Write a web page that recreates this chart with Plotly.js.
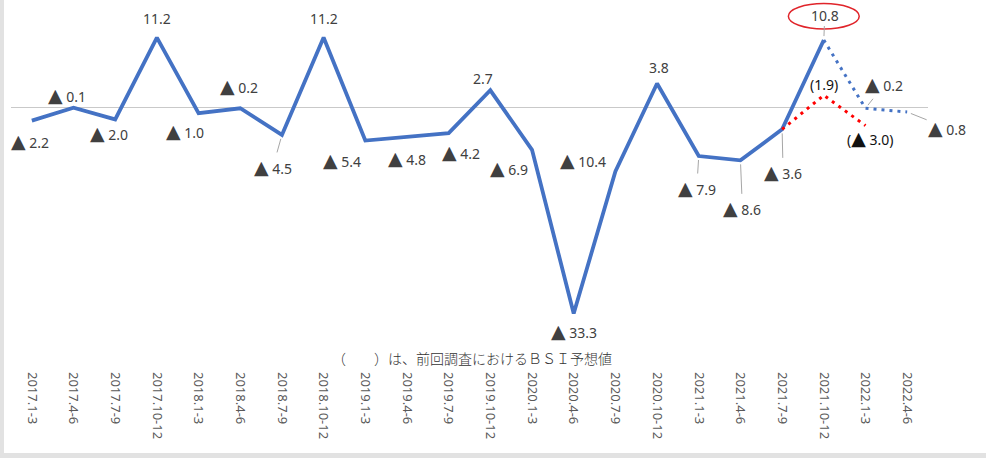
<!DOCTYPE html>
<html>
<head>
<meta charset="utf-8">
<script src="https://cdn.plot.ly/plotly-3.0.1.min.js"></script>
<style>
html,body{margin:0;padding:0;background:#fff;}
#wrap{width:986px;height:458px;box-sizing:border-box;border-left:4px solid #e2e2e2;border-bottom:5px solid #e2e2e2;background:#fff;}
#chart{width:982px;height:453px;}
</style>
</head>
<body>
<div id="wrap"><div id="chart"></div></div>
<script>
// ---- data ----
const categories = ["2017.1-3","2017.4-6","2017.7-9","2017.10-12","2018.1-3","2018.4-6","2018.7-9","2018.10-12",
  "2019.1-3","2019.4-6","2019.7-9","2019.10-12","2020.1-3","2020.4-6","2020.7-9","2020.10-12",
  "2021.1-3","2021.4-6","2021.7-9","2021.10-12","2022.1-3","2022.4-6"];
const actual = [-2.2, -0.1, -2.0, 11.2, -1.0, -0.2, -4.5, 11.2, -5.4, -4.8, -4.2, 2.7, -6.9, -33.3, -10.4, 3.8, -7.9, -8.6, -3.6, 10.8];
const forecastCats = ["2021.10-12","2022.1-3","2022.4-6"];
const forecast = [10.8, -0.2, -0.8];
const prevForecastCats = ["2021.7-9","2021.10-12","2022.1-3"];
const prevForecast = [-3.6, 1.9, -3.0];
const note = "（　　）は、前回調査におけるＢＳＩ予想値";

// label offsets (pixels) and leader flags — styling only
const actualOffsets = [[-2,20,0],[-7,-13,0],[-6,14,0],[0,-19,0],[-14,18,0],[-1,-22,0],[-9,32,1],[0,-19,0],
  [-23,19,0],[0,21,0],[12,19,0],[-7,-12,0],[-23,18,0],[0,17,0],[-32,-12,0],[2,-16,0],
  [-2,32,1],[2,48,1],[1,43,1],[1,-25,1]];
const forecastOffsets = [null,[19,-24,1],[40,16,1]];
const prevOffsets = [null,[0,-11,0],[5,12,0]];

const BLUE = "#4472C4";
const TRI = '<span style="font-size:19px">▲</span> ';
function fmt(v){ return v < 0 ? TRI + Math.abs(v).toFixed(1) : v.toFixed(1); }

const annotations = [];
const labelFont = {family:"Noto Sans, DejaVu Sans, sans-serif", size:14, color:"#404040"};
function addLabel(xc, v, off, text, font){
  annotations.push({
    x: xc, y: v, xref:"x", yref:"y", text: text,
    showarrow: true, ax: off[0], ay: off[1], axref:"pixel", ayref:"pixel",
    arrowhead: 0, arrowwidth: 1, standoff: 4,
    arrowcolor: off[2] ? "#a6a6a6" : "rgba(0,0,0,0)",
    font: font || labelFont
  });
}
actual.forEach((v,i)=> addLabel(categories[i], v, actualOffsets[i], fmt(v)));
forecast.forEach((v,i)=> { if(forecastOffsets[i]) addLabel(forecastCats[i], v, forecastOffsets[i], fmt(v)); });
const darkFont = {family:"Noto Sans, DejaVu Sans, sans-serif", size:14, color:"#111111"};
prevForecast.forEach((v,i)=> { if(prevOffsets[i]) addLabel(prevForecastCats[i], v, prevOffsets[i], "(" + fmt(v) + ")", darkFont); });

annotations.push({
  xref:"paper", yref:"paper", x:0.503, y:0.02, xanchor:"center", yanchor:"middle",
  text: note, showarrow:false,
  font:{family:"Noto Sans CJK JP, sans-serif", size:14, color:"#333", weight:300}
});

// red ellipse around latest actual value
const hiIdx = categories.indexOf("2021.10-12");
const hiVal = actual[hiIdx];
const shapes = [{
  type:"circle", xref:"x", yref:"y",
  x0: hiIdx - 0.85, x1: hiIdx + 0.85,
  y0: hiVal + 1.8, y1: hiVal + 5.9,
  line:{color:"#e0242a", width:1.5}
}];

const traces = [
  {x: categories.slice(0, actual.length), y: actual, type:"scatter", mode:"lines",
   line:{color:BLUE, width:3.8}, hoverinfo:"skip"},
  {x: forecastCats, y: forecast, type:"scatter", mode:"lines",
   line:{color:BLUE, width:3, dash:"3px,5px"}, hoverinfo:"skip"},
  {x: prevForecastCats, y: prevForecast, type:"scatter", mode:"lines",
   line:{color:"#ff0000", width:3, dash:"3px,5px"}, hoverinfo:"skip"}
];

const layout = {
  width: 982, height: 453,
  margin:{l:7, r:58, t:0, b:88},
  paper_bgcolor:"#fff", plot_bgcolor:"#fff",
  showlegend:false,
  xaxis:{type:"category", categoryorder:"array", categoryarray:categories,
    range:[-0.5, categories.length-0.5], showgrid:false, showline:false, zeroline:false,
    ticks:"", tickangle:90, ticklabelstandoff:6,
    tickfont:{family:"Noto Sans, DejaVu Sans, sans-serif", size:13, color:"#595959"}},
  yaxis:{range:[-41.6, 17.26], showgrid:false, showticklabels:false, ticks:"",
    zeroline:true, zerolinecolor:"#c9c9c9", zerolinewidth:1, showline:false},
  annotations: annotations,
  shapes: shapes
};
Plotly.newPlot("chart", traces, layout, {displayModeBar:false, staticPlot:true});
</script>
</body>
</html>
